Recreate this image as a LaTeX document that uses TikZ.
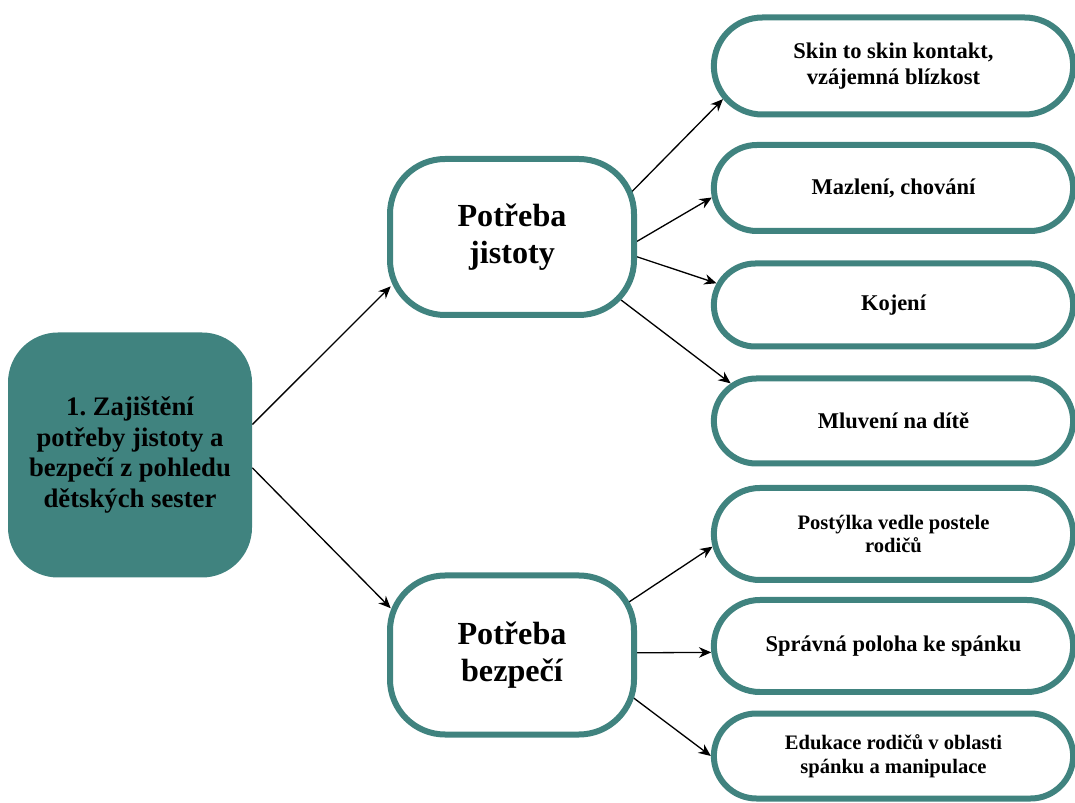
\documentclass[tikz,border=0pt]{standalone}
\usepackage{fontspec}
\setmainfont{Liberation Serif}
\usetikzlibrary{arrows.meta,shapes.misc,backgrounds}
\definecolor{tealbox}{HTML}{40837F}

\begin{document}
\begin{tikzpicture}[
		mainbox/.style={fill=tealbox,rounded corners=1cm,minimum width=4.88cm,minimum height=4.9cm,align=center,font=\fontsize{15.2}{17.5}\selectfont\bfseries},
		needbox/.style={draw=tealbox,line width=0.12cm,fill=white,rounded corners=1.1cm,minimum width=4.88cm,align=center,font=\fontsize{18.3}{21}\selectfont\bfseries},
		itembox/.style={draw=tealbox,line width=0.12cm,fill=white,rounded rectangle,minimum width=7.42cm,align=center,font=\fontsize{12.8}{14.7}\selectfont\bfseries},
		smalltext/.style={font=\fontsize{11.7}{13.6}\selectfont\bfseries},
		arr/.style={-{Stealth[length=7pt,width=6pt]},line width=0.75pt},
	]
		\useasboundingbox (0,0) rectangle (21.5,-16.06);
		% left
		\node[mainbox] (zajisteni) at (2.6,-9.1) {1.\ Zajištění\\potřeby jistoty a\\bezpečí z pohledu\\dětských sester};
		% middle
		\node[needbox,minimum height=3.12cm] (jistota) at (10.24,-4.74) {Potřeba\\jistoty};
		\node[needbox,minimum height=3.18cm] (bezpeci) at (10.24,-13.1) {Potřeba\\bezpečí};
		% right
		\node[itembox,minimum height=1.94cm] (skin) at (17.87,-1.32) {Skin to skin kontakt,\\vzájemná blízkost};
		\node[itembox,minimum height=1.72cm] (mazleni) at (17.87,-3.76) {Mazlení, chování};
		\node[itembox,minimum height=1.66cm] (kojeni) at (17.87,-6.10) {Kojení};
		\node[itembox,minimum height=1.70cm] (mluveni) at (17.87,-8.42) {Mluvení na dítě};
		\node[itembox,smalltext,minimum height=1.84cm] (postylka) at (17.87,-10.68) {Postýlka vedle postele\\rodičů};
		\node[itembox,minimum height=1.84cm] (poloha) at (17.87,-12.92) {Správná poloha ke spánku};
		\node[itembox,smalltext,minimum height=1.70cm] (edukace) at (17.87,-15.12) {Edukace rodičů v oblasti\\spánku a manipulace};
		
		\begin{pgfonlayer}{background}
			\draw[arr,shorten >=-3pt] (zajisteni.14)--(jistota.203);
			\draw[arr,shorten >=-3pt] (zajisteni.-6)--(bezpeci.158);
			\draw[arr,shorten <=-0.4cm] (jistota.22)--(skin.191);
			\draw[arr,shorten <=-0.4cm] (jistota.-2)--(mazleni.183);
			\draw[arr,shorten <=-0.4cm] (jistota.-9)--(kojeni.173);
			\draw[arr,shorten <=-0.4cm] (jistota.-31)--(mluveni.167);
			\draw[arr,shorten <=-0.4cm] (bezpeci.25)--(postylka.184);
			\draw[arr,shorten <=-0.4cm] (bezpeci.1)--(poloha.182);
			\draw[arr,shorten <=-0.4cm] (bezpeci.-20)--(edukace.180);
		\end{pgfonlayer}
		
	\end{tikzpicture}
\end{document}
